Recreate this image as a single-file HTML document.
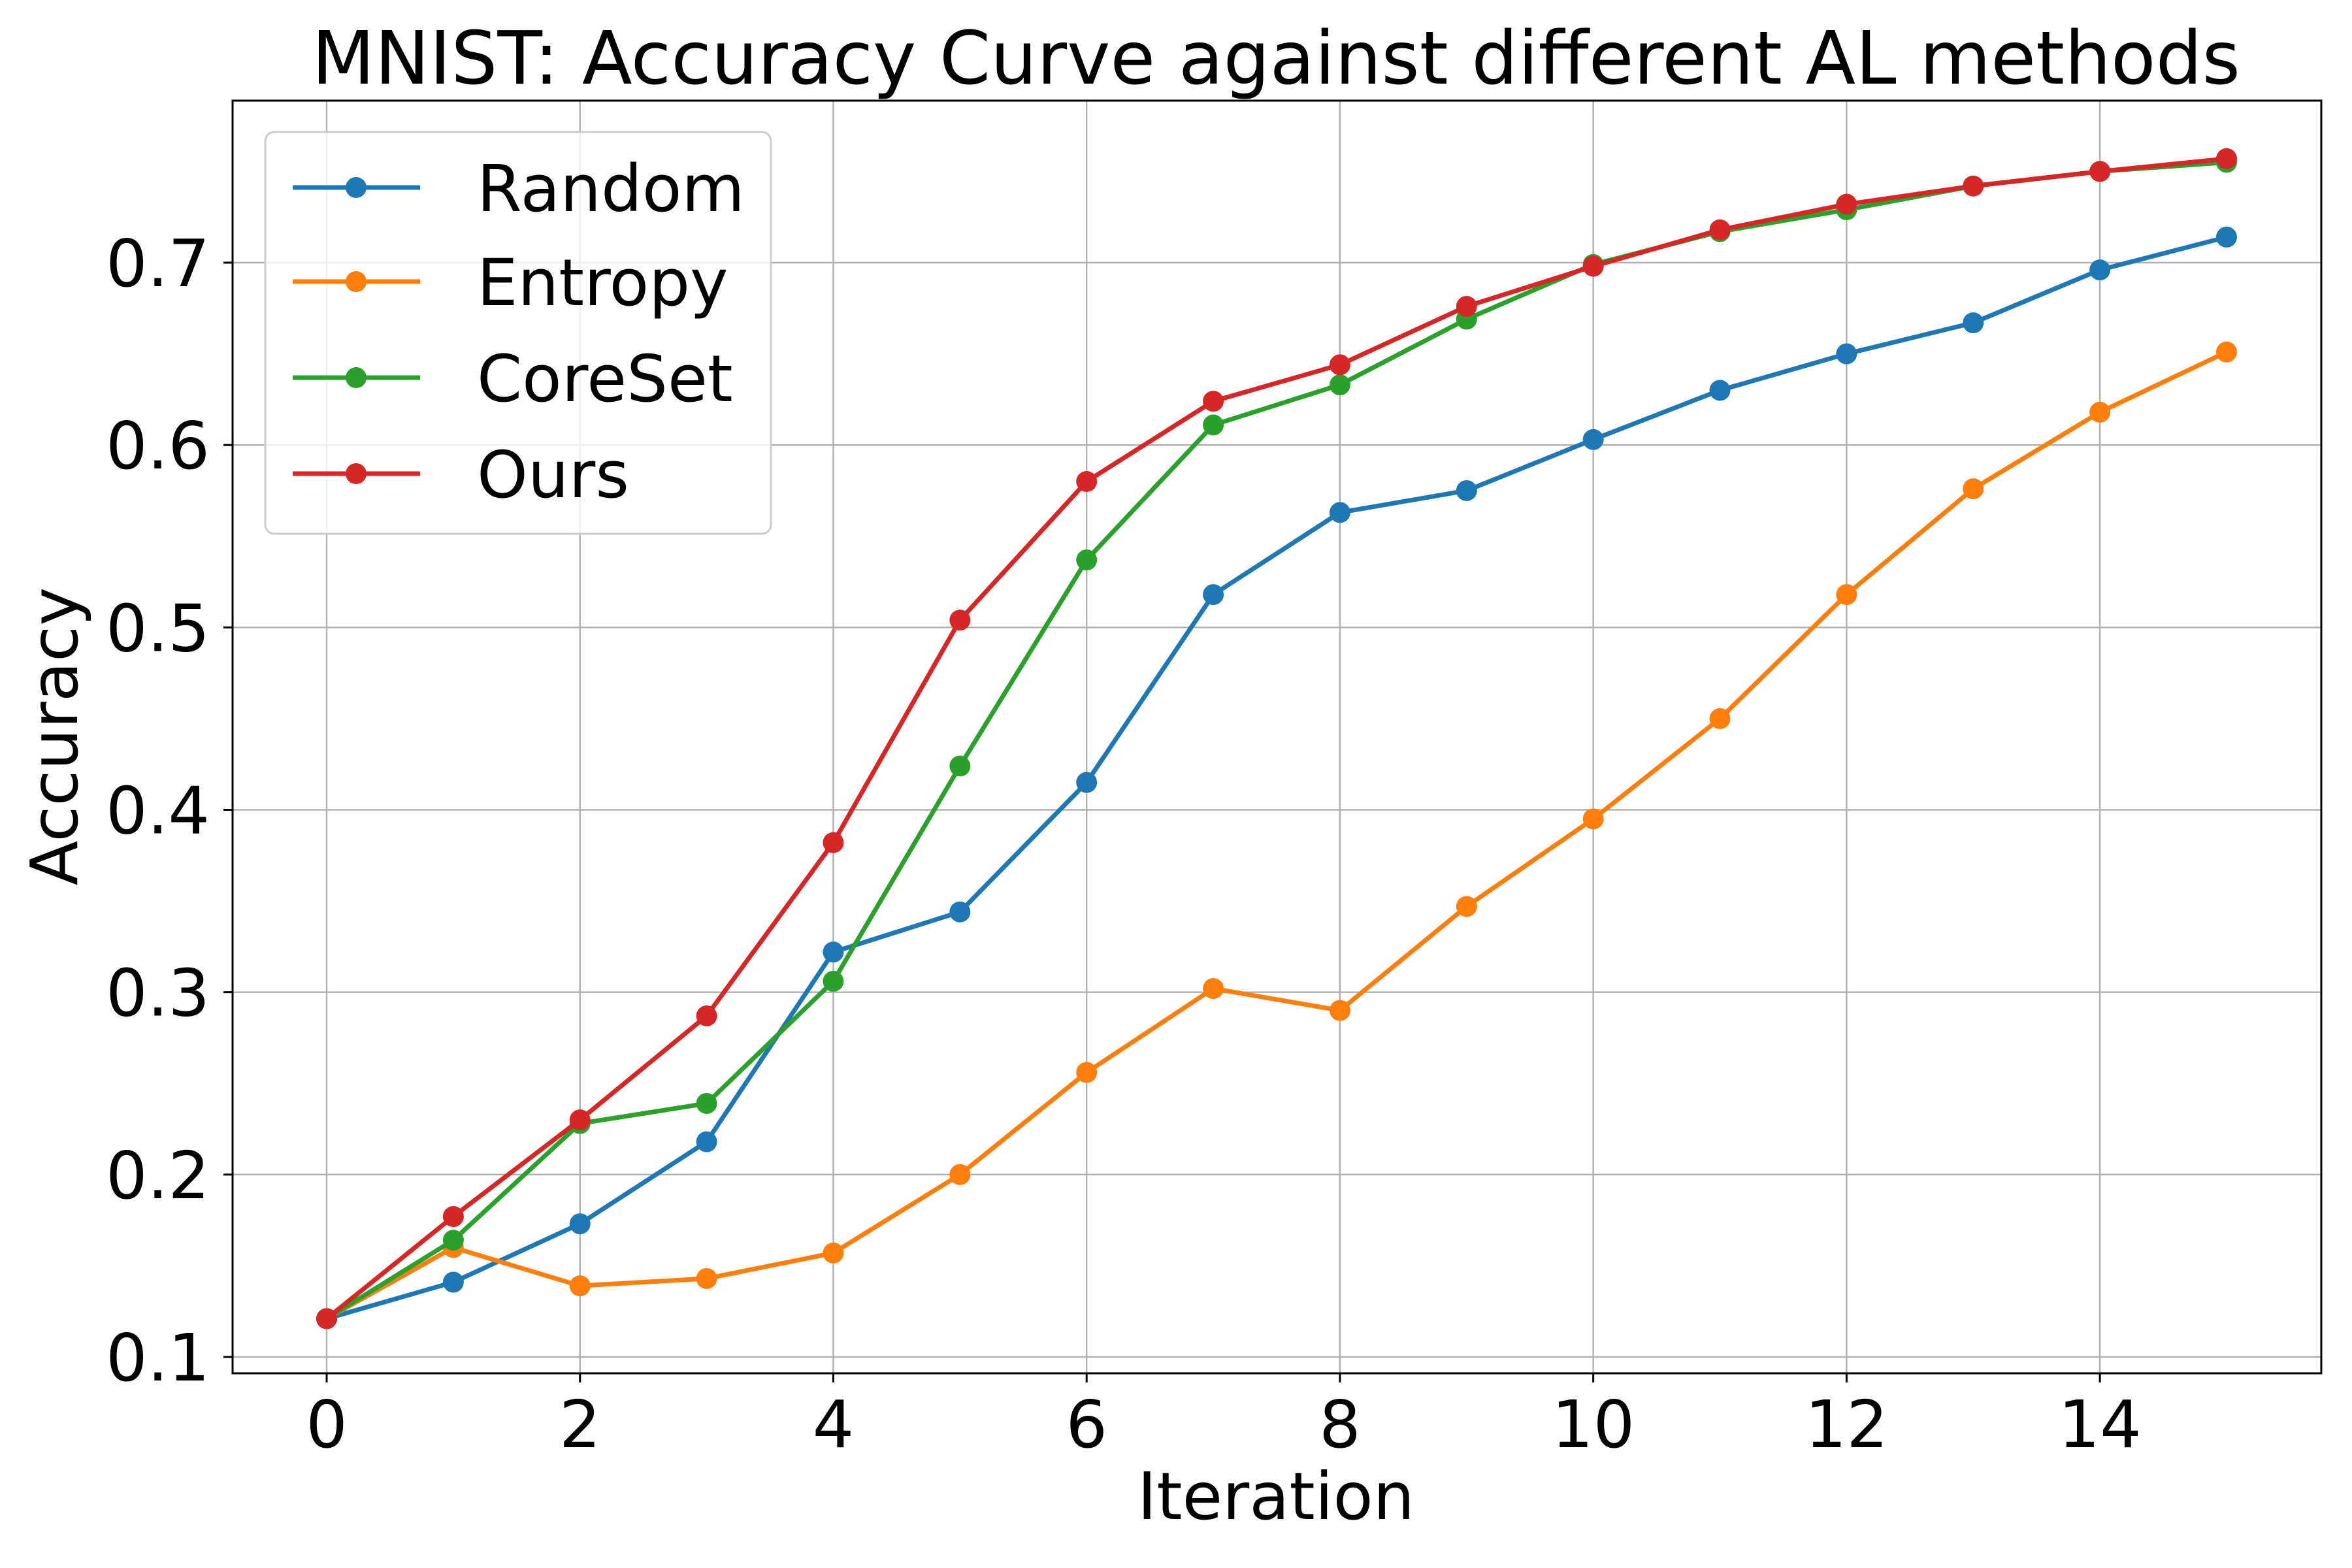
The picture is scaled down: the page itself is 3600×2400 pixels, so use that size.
<!DOCTYPE html>
<html><head><meta charset="utf-8"><style>
html,body{margin:0;padding:0;background:#fff;}
svg{display:block;font-family:"DejaVu Sans","Liberation Sans",sans-serif;}
</style></head><body>
<svg id="chart" width="3600" height="2400" viewBox="0 0 3600 2400" xmlns="http://www.w3.org/2000/svg">
<rect width="3600" height="2400" fill="#fff"/>
<text x="1953" y="128" font-size="112" text-anchor="middle" fill="#000">MNIST: Accuracy Curve against different AL methods</text>
<g id="grid"></g>
<g id="series"></g>
<rect x="356" y="154" width="3197" height="1948" fill="none" stroke="#000" stroke-width="3"/>
<g id="ticks"></g>
<text x="1953" y="2325" font-size="100" text-anchor="middle">Iteration</text>
<text x="118" y="1127" font-size="100" text-anchor="middle" transform="rotate(-90 118 1127)">Accuracy</text>
<g id="legend"></g>
</svg>
<script>
const iterations=[0,1,2,3,4,5,6,7,8,9,10,11,12,13,14,15];
const seriesNames=["Random","Entropy","CoreSet","Ours"];
const seriesColors=["#1f77b4","#ff7f0e","#2ca02c","#d62728"];
const randomVals=[0.121,0.141,0.173,0.218,0.322,0.344,0.415,0.518,0.563,0.575,0.603,0.630,0.650,0.667,0.696,0.714];
const entropyVals=[0.121,0.160,0.139,0.143,0.157,0.200,0.256,0.302,0.290,0.347,0.395,0.450,0.518,0.576,0.618,0.651];
const coresetVals=[0.121,0.164,0.228,0.239,0.306,0.424,0.537,0.611,0.633,0.669,0.699,0.717,0.729,0.742,0.750,0.755];
const oursVals=[0.121,0.177,0.230,0.287,0.382,0.504,0.580,0.624,0.644,0.676,0.698,0.718,0.732,0.742,0.750,0.757];
const xTicks=[0,2,4,6,8,10,12,14];
const yTicks=[0.1,0.2,0.3,0.4,0.5,0.6,0.7];
const yTickLabels=["0.1","0.2","0.3","0.4","0.5","0.6","0.7"];

const NS="http://www.w3.org/2000/svg";
const X0=356,X1=3553,Y0=154,Y1=2102;
function xs(v){return 500+v*(3408-500)/15;}
function ys(v){return 2077-(v-0.1)*(2077-402)/0.6;}
function mk(tag,attrs,parent){const e=document.createElementNS(NS,tag);for(const k in attrs)e.setAttribute(k,attrs[k]);parent.appendChild(e);return e;}
const grid=document.getElementById('grid'),ticks=document.getElementById('ticks'),ser=document.getElementById('series'),leg=document.getElementById('legend');

xTicks.forEach(t=>{
  const x=xs(t);
  const g=mk('line',{x1:x,x2:x,y1:Y0,y2:Y1,stroke:'#b0b0b0','stroke-width':2.4},grid);
  
  
  const tk=mk('line',{x1:x,x2:x,y1:Y1,y2:Y1+14,stroke:'#000','stroke-width':3},ticks);
  
  
  const tl=mk('text',{x:x,y:2215,'font-size':100,'text-anchor':'middle'},ticks);
  tl.textContent=String(t);
  
  
});
yTicks.forEach((t,i)=>{
  const y=ys(t);
  const g=mk('line',{x1:X0,x2:X1,y1:y,y2:y,stroke:'#b0b0b0','stroke-width':2.4},grid);
  
  
  const tk=mk('line',{x1:X0-14,x2:X0,y1:y,y2:y,stroke:'#000','stroke-width':3},ticks);
  
  
  const tl=mk('text',{x:321,y:y+36,'font-size':100,'text-anchor':'end'},ticks);
  tl.textContent=yTickLabels[i];
  
  
});

const allVals=[randomVals,entropyVals,coresetVals,oursVals];
allVals.forEach((vals,si)=>{
  const g=mk('g',{},ser);
  
  
  const pts=vals.map((v,i)=>xs(iterations[i])+','+ys(v)).join(' ');
  const pl=mk('polyline',{points:pts,fill:'none',stroke:seriesColors[si],'stroke-width':7,'stroke-linejoin':'round'},g);
  
  
  vals.forEach((v,i)=>{
    const c=mk('circle',{cx:xs(iterations[i]),cy:ys(v),r:16,fill:seriesColors[si]},g);
    
    
  });
});

const box=mk('rect',{x:406,y:202,width:774,height:615,rx:14,fill:'#fff','fill-opacity':0.8,stroke:'#cccccc','stroke-width':3},leg);


const legY=[287,431,578,725];
seriesNames.forEach((n,i)=>{
  const g=mk('g',{},leg);
  
  
  mk('line',{x1:448,x2:643,y1:legY[i],y2:legY[i],stroke:seriesColors[i],'stroke-width':7},g);
  mk('circle',{cx:545,cy:legY[i],r:16,fill:seriesColors[i]},g);
  const t=mk('text',{x:730,y:legY[i]+36,'font-size':99},g);
  t.textContent=n;
});
</script>
</body></html>
